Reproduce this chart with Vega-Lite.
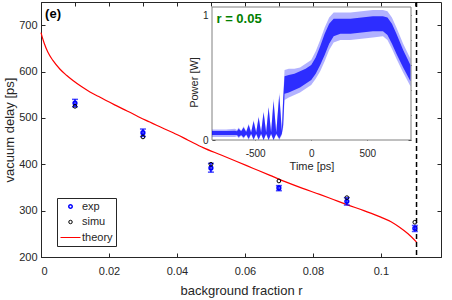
{
  "$schema": "https://vega.github.io/schema/vega-lite/v6.json",
  "width": 400,
  "height": 255,
  "autosize": {"type": "none"},
  "padding": {"left": 41, "top": 2, "right": 11, "bottom": 43},
  "background": "white",
  "config": {
    "view": {"stroke": "#262626", "strokeWidth": 1},
    "font": "Liberation Sans",
    "axis": {"grid": false, "labelColor": "#262626", "titleColor": "#262626", "domainColor": "#262626", "tickColor": "#262626", "labelFont": "Liberation Sans", "titleFont": "Liberation Sans", "titleFontWeight": "normal", "labelFontSize": 11, "titleFontSize": 13, "tickSize": -4, "labelPadding": 8},
    "text": {"font": "Liberation Sans"}
  },
  "datasets": {
    "theory": [
      {"r": 0, "delay": 684}, {"r": 0.0003, "delay": 676}, {"r": 0.001, "delay": 660}, {"r": 0.002, "delay": 642},
      {"r": 0.0035, "delay": 624}, {"r": 0.0056, "delay": 605}, {"r": 0.0075, "delay": 592}, {"r": 0.0095, "delay": 580},
      {"r": 0.012, "delay": 567}, {"r": 0.0144, "delay": 556}, {"r": 0.017, "delay": 546}, {"r": 0.0193, "delay": 537},
      {"r": 0.022, "delay": 527}, {"r": 0.0242, "delay": 519}, {"r": 0.027, "delay": 509}, {"r": 0.0291, "delay": 501},
      {"r": 0.032, "delay": 491}, {"r": 0.034, "delay": 484}, {"r": 0.0389, "delay": 468}, {"r": 0.0433, "delay": 452},
      {"r": 0.0477, "delay": 436}, {"r": 0.053, "delay": 420}, {"r": 0.0576, "delay": 406}, {"r": 0.0625, "delay": 391},
      {"r": 0.0674, "delay": 376}, {"r": 0.072, "delay": 362}, {"r": 0.077, "delay": 348}, {"r": 0.082, "delay": 335},
      {"r": 0.086, "delay": 324}, {"r": 0.09, "delay": 313}, {"r": 0.095, "delay": 300}, {"r": 0.1, "delay": 286},
      {"r": 0.103, "delay": 276}, {"r": 0.1055, "delay": 264}, {"r": 0.108, "delay": 250}, {"r": 0.1105, "delay": 232}
    ],
    "pts": [
      {"r": 0.01, "exp": 532, "lo": 524, "hi": 540, "simu": 525},
      {"r": 0.03, "exp": 468, "lo": 460, "hi": 476, "simu": 459},
      {"r": 0.05, "exp": 392, "lo": 383, "hi": 402, "simu": 400},
      {"r": 0.07, "exp": 349, "lo": 343, "hi": 354, "simu": 364},
      {"r": 0.09, "exp": 320, "lo": 312, "hi": 328, "simu": 328},
      {"r": 0.11, "exp": 262, "lo": 255, "hi": 268, "simu": 275}
    ],
    "limit": [{"r": 0.1105}],
    "ann": [{"r": 0.0012, "delay": 724, "label": "(e)"}],
    "frame": [{"x0": -885, "x1": 890, "y0": 0, "y1": 1.064}],
    "insetann": [{"t": -845, "p": 0.965, "label": "r = 0.05"}],
    "inset": [
      {"t": -885, "lo": 0.025, "hi": 0.085, "clo": 0.04, "chi": 0.072},
      {"t": -760, "lo": 0.025, "hi": 0.085, "clo": 0.04, "chi": 0.072},
      {"t": -680, "lo": 0.025, "hi": 0.09, "clo": 0.04, "chi": 0.075},
      {"t": -662, "lo": 0.03, "hi": 0.08, "clo": 0.04, "chi": 0.07},
      {"t": -647, "lo": 0.015, "hi": 0.1, "clo": 0.025, "chi": 0.09},
      {"t": -625, "lo": 0.035, "hi": 0.075, "clo": 0.04, "chi": 0.07},
      {"t": -603, "lo": 0.01, "hi": 0.11, "clo": 0.02, "chi": 0.1},
      {"t": -580, "lo": 0.04, "hi": 0.07, "clo": 0.045, "chi": 0.065},
      {"t": -558, "lo": 0.0, "hi": 0.13, "clo": 0.01, "chi": 0.12},
      {"t": -536, "lo": 0.045, "hi": 0.065, "clo": 0.05, "chi": 0.06},
      {"t": -514, "lo": 0.0, "hi": 0.16, "clo": 0.005, "chi": 0.15},
      {"t": -491, "lo": 0.045, "hi": 0.065, "clo": 0.05, "chi": 0.06},
      {"t": -469, "lo": 0.0, "hi": 0.19, "clo": 0.005, "chi": 0.18},
      {"t": -447, "lo": 0.045, "hi": 0.065, "clo": 0.05, "chi": 0.06},
      {"t": -425, "lo": 0.0, "hi": 0.23, "clo": 0.0, "chi": 0.22},
      {"t": -402, "lo": 0.045, "hi": 0.065, "clo": 0.05, "chi": 0.06},
      {"t": -380, "lo": 0.0, "hi": 0.27, "clo": 0.0, "chi": 0.26},
      {"t": -358, "lo": 0.045, "hi": 0.065, "clo": 0.05, "chi": 0.06},
      {"t": -336, "lo": 0.0, "hi": 0.33, "clo": 0.0, "chi": 0.31},
      {"t": -312, "lo": 0.045, "hi": 0.065, "clo": 0.05, "chi": 0.06},
      {"t": -285, "lo": 0.0, "hi": 0.38, "clo": 0.01, "chi": 0.36},
      {"t": -262, "lo": 0.04, "hi": 0.08, "clo": 0.05, "chi": 0.07},
      {"t": -250, "lo": 0.1, "hi": 0.35, "clo": 0.12, "chi": 0.33},
      {"t": -238, "lo": 0.32, "hi": 0.56, "clo": 0.37, "chi": 0.51},
      {"t": -200, "lo": 0.34, "hi": 0.57, "clo": 0.38, "chi": 0.52},
      {"t": -150, "lo": 0.36, "hi": 0.57, "clo": 0.4, "chi": 0.53},
      {"t": -100, "lo": 0.38, "hi": 0.58, "clo": 0.42, "chi": 0.55},
      {"t": -50, "lo": 0.41, "hi": 0.61, "clo": 0.45, "chi": 0.57},
      {"t": 0, "lo": 0.44, "hi": 0.64, "clo": 0.48, "chi": 0.6},
      {"t": 40, "lo": 0.49, "hi": 0.71, "clo": 0.53, "chi": 0.66},
      {"t": 80, "lo": 0.55, "hi": 0.8, "clo": 0.6, "chi": 0.75},
      {"t": 120, "lo": 0.63, "hi": 0.9, "clo": 0.68, "chi": 0.85},
      {"t": 160, "lo": 0.72, "hi": 0.98, "clo": 0.77, "chi": 0.93},
      {"t": 200, "lo": 0.78, "hi": 1.02, "clo": 0.83, "chi": 0.97},
      {"t": 260, "lo": 0.8, "hi": 1.02, "clo": 0.85, "chi": 0.97},
      {"t": 350, "lo": 0.8, "hi": 1.02, "clo": 0.85, "chi": 0.97},
      {"t": 450, "lo": 0.81, "hi": 1.03, "clo": 0.86, "chi": 0.98},
      {"t": 550, "lo": 0.82, "hi": 1.04, "clo": 0.87, "chi": 0.99},
      {"t": 640, "lo": 0.83, "hi": 1.04, "clo": 0.87, "chi": 0.99},
      {"t": 680, "lo": 0.8, "hi": 1.03, "clo": 0.84, "chi": 0.98},
      {"t": 720, "lo": 0.73, "hi": 0.98, "clo": 0.77, "chi": 0.93},
      {"t": 760, "lo": 0.65, "hi": 0.9, "clo": 0.69, "chi": 0.85},
      {"t": 820, "lo": 0.54, "hi": 0.77, "clo": 0.58, "chi": 0.72},
      {"t": 885, "lo": 0.43, "hi": 0.65, "clo": 0.47, "chi": 0.6}
    ]
  },
  "layer": [
    {
      "layer": [
        {
          "data": {"name": "theory"},
          "mark": {"type": "line", "color": "#ff0000", "strokeWidth": 1.2, "interpolate": "monotone"},
          "encoding": {
            "x": {"field": "r", "type": "quantitative", "title": "background fraction r",
                  "scale": {"domain": [0, 0.1177], "nice": false, "zero": false},
                  "axis": {"orient": "bottom", "values": [0, 0.01, 0.02, 0.03, 0.04, 0.05, 0.06, 0.07, 0.08, 0.09, 0.1, 0.11],
                           "labelExpr": "round(datum.value * 100) % 2 == 0 ? format(datum.value, '~g') : ''",
                           "labelPadding": 12, "titlePadding": 8}},
            "y": {"field": "delay", "type": "quantitative", "title": "vacuum delay [ps]",
                  "scale": {"domain": [200, 750], "nice": false, "zero": false},
                  "axis": {"orient": "left", "values": [200, 300, 400, 500, 600, 700], "labelPadding": 8, "titlePadding": 2}},
            "color": {"datum": "theory", "type": "nominal",
                      "scale": {"domain": ["exp", "simu", "theory"], "range": ["#0000ff", "#000000", "#ff0000"]},
                      "legend": {"orient": "none", "legendX": 16, "legendY": 196, "title": null,
                                 "strokeColor": "#262626", "fillColor": "white", "padding": 3,
                                 "labelFontSize": 11, "labelColor": "#262626", "labelFont": "Liberation Sans",
                                 "symbolSize": 100, "rowPadding": 3.5, "symbolOffset": 5, "labelOffset": 6,
                                 "values": ["exp", "simu", "theory"],
                                 "encode": {"symbols": {"update": {
                                   "shape": {"signal": "datum.value === 'theory' ? 'stroke' : 'circle'"},
                                   "size": {"signal": "datum.value === 'theory' ? 400 : 12"},
                                   "fill": {"value": "transparent"},
                                   "stroke": {"signal": "datum.value === 'exp' ? '#0000ff' : datum.value === 'simu' ? '#000000' : '#ff0000'"},
                                   "strokeWidth": {"signal": "datum.value === 'exp' ? 1.5 : 1"},
                                   "opacity": {"value": 1}
                                 }}}}}
          }
        },
        {
          "data": {"name": "limit"},
          "mark": {"type": "rule", "color": "#000000", "strokeDash": [5, 3], "strokeWidth": 1.5},
          "encoding": {"x": {"field": "r", "type": "quantitative", "title": "background fraction r"}}
        },
        {
          "data": {"name": "pts"},
          "mark": {"type": "errorbar", "color": "#0000ff", "thickness": 1.5, "ticks": {"size": 6, "color": "#0000ff"}},
          "encoding": {
            "x": {"field": "r", "type": "quantitative", "title": "background fraction r"},
            "y": {"field": "lo", "type": "quantitative", "title": "vacuum delay [ps]"},
            "y2": {"field": "hi"}
          }
        },
        {
          "data": {"name": "pts"},
          "mark": {"type": "point", "filled": false, "strokeWidth": 1.5, "size": 14, "opacity": 1},
          "encoding": {
            "x": {"field": "r", "type": "quantitative", "title": "background fraction r"},
            "y": {"field": "exp", "type": "quantitative", "title": "vacuum delay [ps]"},
            "color": {"datum": "exp", "type": "nominal"}
          }
        },
        {
          "data": {"name": "pts"},
          "mark": {"type": "point", "filled": false, "strokeWidth": 1, "size": 14, "opacity": 1},
          "encoding": {
            "x": {"field": "r", "type": "quantitative", "title": "background fraction r"},
            "y": {"field": "simu", "type": "quantitative", "title": "vacuum delay [ps]"},
            "color": {"datum": "simu", "type": "nominal"}
          }
        },
        {
          "data": {"name": "ann"},
          "mark": {"type": "text", "align": "left", "baseline": "middle", "fontWeight": "bold", "fontSize": 13, "color": "#000000"},
          "encoding": {
            "x": {"field": "r", "type": "quantitative", "title": "background fraction r"},
            "y": {"field": "delay", "type": "quantitative", "title": "vacuum delay [ps]"},
            "text": {"field": "label"}
          }
        }
      ]
    },
    {
      "data": {"name": "pts"},
      "mark": {"type": "point", "opacity": 0},
      "encoding": {
        "x": {"field": "r", "type": "quantitative", "scale": {"domain": [0, 0.1177], "nice": false, "zero": false},
              "axis": {"orient": "top", "values": [0, 0.01, 0.02, 0.03, 0.04, 0.05, 0.06, 0.07, 0.08, 0.09, 0.1, 0.11], "labels": false, "title": null, "domain": false, "tickSize": -4}},
        "y": {"field": "exp", "type": "quantitative", "scale": {"domain": [200, 750], "nice": false, "zero": false},
              "axis": {"orient": "right", "values": [200, 300, 400, 500, 600, 700], "labels": false, "title": null, "domain": false, "tickSize": -4}}
      }
    },
    {
      "layer": [
        {
          "data": {"name": "frame"},
          "mark": {"type": "rect", "fill": "white", "stroke": "#808080", "strokeWidth": 1},
          "encoding": {
            "x": {"field": "x0", "type": "quantitative", "title": "Time [ps]",
                  "scale": {"domain": [-885, 890], "range": [171, 370], "nice": false, "zero": false},
                  "axis": {"orient": "bottom", "offset": -117, "values": [-500, 0, 500], "labelExpr": "'' + datum.value",
                           "tickSize": -3, "labelPadding": 11, "labelFontSize": 10, "titleFontSize": 11, "titlePadding": 2, "domain": false}},
            "x2": {"field": "x1"},
            "y": {"field": "y0", "type": "quantitative", "title": "Power [W]",
                  "scale": {"domain": [0, 1.064], "range": [138, 5], "nice": false, "zero": false},
                  "axis": {"orient": "left", "offset": -171, "values": [0, 0.2, 0.4, 0.6, 0.8, 1],
                           "labelExpr": "datum.value == 0 || datum.value == 1 ? '' + datum.value : ''",
                           "tickSize": -3, "labelPadding": 7, "labelFontSize": 10, "titleFontSize": 11, "titlePadding": 3, "titleY": 80, "domain": false}},
            "y2": {"field": "y1"}
          }
        },
        {
          "data": {"name": "inset"},
          "mark": {"type": "area", "color": "#0000ff", "opacity": 0.3},
          "encoding": {
            "x": {"field": "t", "type": "quantitative", "title": "Time [ps]"},
            "y": {"field": "lo", "type": "quantitative", "title": "Power [W]"},
            "y2": {"field": "hi"}
          }
        },
        {
          "data": {"name": "inset"},
          "mark": {"type": "area", "color": "#0000ff", "opacity": 0.75},
          "encoding": {
            "x": {"field": "t", "type": "quantitative", "title": "Time [ps]"},
            "y": {"field": "clo", "type": "quantitative", "title": "Power [W]"},
            "y2": {"field": "chi"}
          }
        },
        {
          "data": {"name": "insetann"},
          "mark": {"type": "text", "align": "left", "baseline": "middle", "fontWeight": "bold", "fontSize": 13, "color": "#008000"},
          "encoding": {
            "x": {"field": "t", "type": "quantitative", "title": "Time [ps]"},
            "y": {"field": "p", "type": "quantitative", "title": "Power [W]"},
            "text": {"field": "label"}
          }
        }
      ]
    },
    {
      "data": {"name": "frame"},
      "mark": {"type": "point", "opacity": 0},
      "encoding": {
        "x": {"field": "x0", "type": "quantitative", "scale": {"domain": [-885, 890], "range": [171, 370], "nice": false, "zero": false},
              "axis": {"orient": "top", "offset": -5, "values": [-500, 0, 500], "labels": false, "title": null, "domain": false, "tickSize": -3}},
        "y": {"field": "y0", "type": "quantitative", "scale": {"domain": [0, 1.064], "range": [138, 5], "nice": false, "zero": false},
              "axis": {"orient": "right", "offset": -30, "values": [0, 0.2, 0.4, 0.6, 0.8, 1], "labels": false, "title": null, "domain": false, "tickSize": -3}}
      }
    }
  ],
  "resolve": {"scale": {"x": "independent", "y": "independent"}, "axis": {"x": "independent", "y": "independent"}}
}
